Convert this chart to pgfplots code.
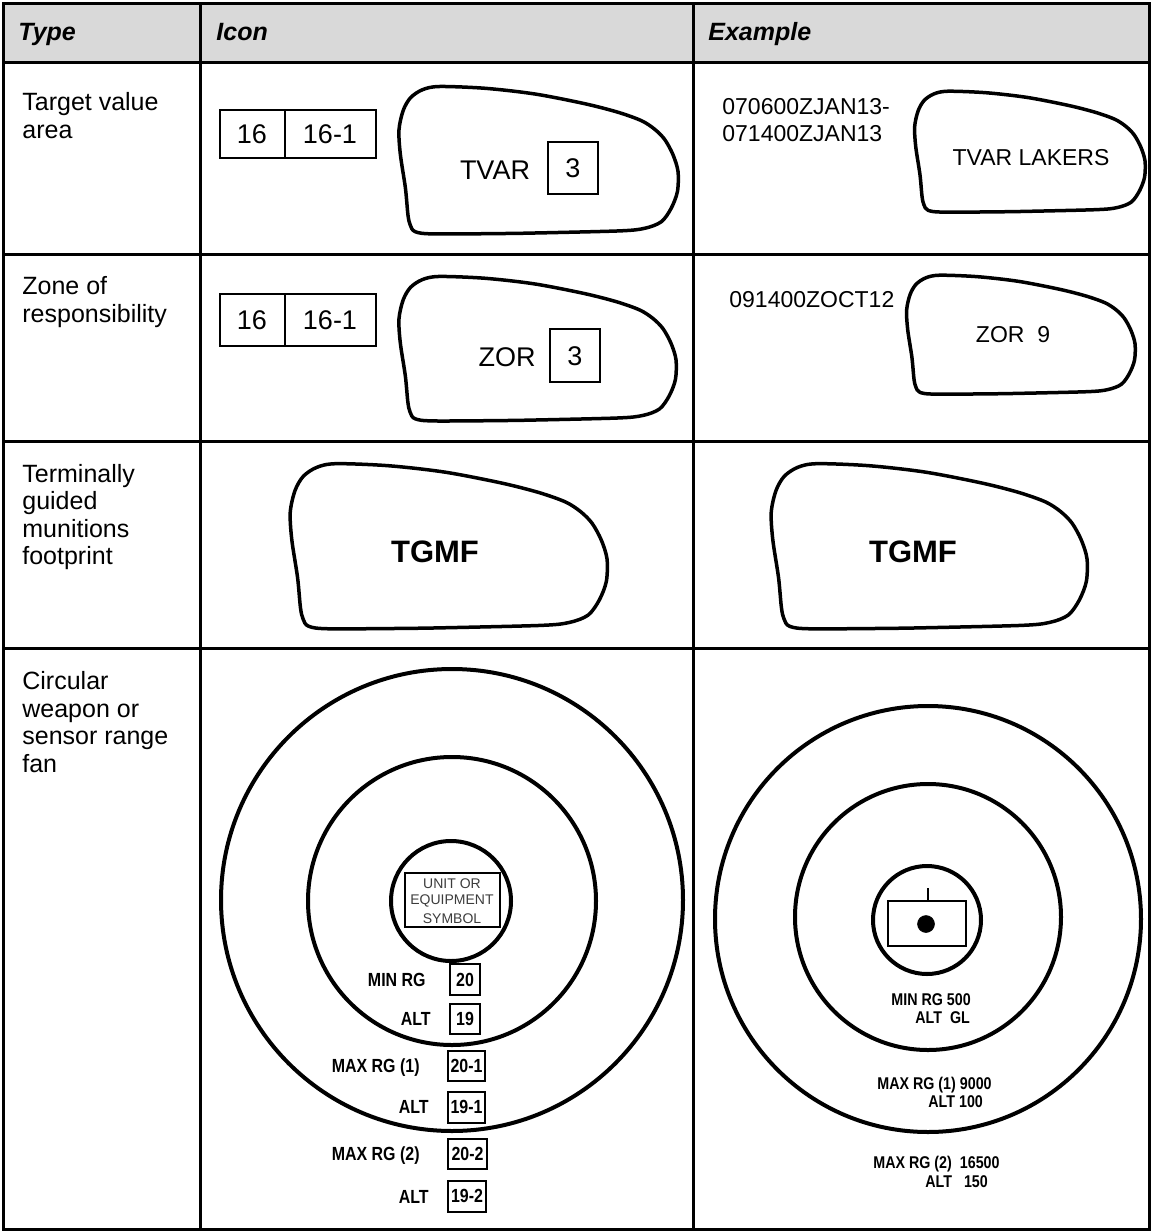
\documentclass[border=0pt]{standalone}
\usepackage{fontspec}
\setmainfont{Liberation Sans}
\newfontfamily\narrowfont[FakeStretch=0.84]{Liberation Sans}
\usepackage{pgfplots}
\usepackage{pgfplotstable}
\pgfplotsset{compat=1.18}
\definecolor{headgray}{RGB}{217,217,217}
\definecolor{unitgray}{RGB}{60,60,60}
% normalised outline of the irregular area symbol (u right, v down)
\pgfplotstableread{
u v
0.432 0.989
0.136 0.993
0.065 0.978
0.047 0.933
0.039 0.866
0.030 0.688
0.012 0.464
0.007 0.300
0.022 0.170
0.048 0.085
0.090 0.032
0.150 0.010
0.314 0.022
0.491 0.060
0.669 0.125
0.787 0.182
0.870 0.238
0.917 0.295
0.953 0.364
0.982 0.464
1.000 0.576
0.998 0.710
0.976 0.821
0.941 0.911
0.882 0.955
0.787 0.973
0.432 0.989
}\blob
\newcommand{\bodyfont}{\fontsize{12.5}{14}\selectfont}
\newcommand{\headfont}{\fontsize{12.5}{14}\selectfont\bfseries\itshape}
\newcommand{\iconfont}{\fontsize{13.5}{15}\selectfont}
\newcommand{\exfont}{\fontsize{11.5}{13}\selectfont}
\newcommand{\fanfont}{\fontsize{9.5}{10}\selectfont\narrowfont\bfseries}
\newcommand{\exfanfont}{\fontsize{8.5}{9}\selectfont\narrowfont\bfseries}
\newcommand{\blobat}[4]{\addplot[black, line width=1.75pt, smooth, tension=0.5] table[x expr=#1+#2*\thisrow{u}, y expr=#3+#4*\thisrow{v}] {\blob};}
\newcommand{\rect}[5][black, line width=0.75pt]{\addplot[#1] coordinates {(#2,#4) (#3,#4) (#3,#5) (#2,#5)} -- cycle;}
\begin{document}
\begin{tikzpicture}[every node/.append style={inner sep=0pt}]
\begin{axis}[scale only axis, width=575.5pt, height=616pt,
  xmin=0, xmax=1151, ymin=0, ymax=1232, y dir=reverse,
  hide axis, clip=false]
% frame of the picture
\addplot[draw=none] coordinates {(0,0) (1151,1232)};
% header background
\addplot[fill=headgray, draw=none] coordinates {(3,3) (1149,3) (1149,62) (3,62)} -- cycle;
% table rules
\rect[black, line width=1.5pt]{3}{1149}{3}{1229}
\addplot[black, line width=1.5pt] coordinates {(3,62) (1149,62)};
\addplot[black, line width=1.5pt] coordinates {(3,254) (1149,254)};
\addplot[black, line width=1.5pt] coordinates {(3,441) (1149,441)};
\addplot[black, line width=1.5pt] coordinates {(3,648) (1149,648)};
\addplot[black, line width=1.5pt] coordinates {(200,3) (200,1229)};
\addplot[black, line width=1.5pt] coordinates {(693,3) (693,1229)};
% header text
\node[anchor=base west, font=\headfont] at (axis cs:18,40) {Type};
\node[anchor=base west, font=\headfont] at (axis cs:216,40) {Icon};
\node[anchor=base west, font=\headfont] at (axis cs:708,40) {Example};
% first column
\node[anchor=base west, font=\bodyfont] at (axis cs:22,110) {Target value};
\node[anchor=base west, font=\bodyfont] at (axis cs:22,138) {area};
\node[anchor=base west, font=\bodyfont] at (axis cs:22,294) {Zone of};
\node[anchor=base west, font=\bodyfont] at (axis cs:22,322) {responsibility};
\node[anchor=base west, font=\bodyfont] at (axis cs:22,482) {Terminally};
\node[anchor=base west, font=\bodyfont] at (axis cs:22,509) {guided};
\node[anchor=base west, font=\bodyfont] at (axis cs:22,537) {munitions};
\node[anchor=base west, font=\bodyfont] at (axis cs:22,564) {footprint};
\node[anchor=base west, font=\bodyfont] at (axis cs:22,689) {Circular};
\node[anchor=base west, font=\bodyfont] at (axis cs:22,717) {weapon or};
\node[anchor=base west, font=\bodyfont] at (axis cs:22,744) {sensor range};
\node[anchor=base west, font=\bodyfont] at (axis cs:22,772) {fan};
% ---- row 1: target value area
\rect{220}{376}{110}{158}
\addplot[black, line width=0.75pt] coordinates {(285,110) (285,158)};
\node[font=\iconfont] at (axis cs:252,134) {16};
\node[font=\iconfont] at (axis cs:330,134) {16-1};
\blobat{397}{281}{85}{150}
\node[font=\iconfont] at (axis cs:495,170) {TVAR};
\rect{548}{598}{142}{194}
\node[font=\iconfont] at (axis cs:573,168) {3};
\node[anchor=base west, font=\exfont] at (axis cs:722,114) {070600ZJAN13-};
\node[anchor=base west, font=\exfont] at (axis cs:722,141) {071400ZJAN13};
\blobat{913}{232}{90}{123}
\node[font=\exfont] at (axis cs:1031,158) {TVAR LAKERS};
% ---- row 2: zone of responsibility
\rect{220}{376}{294}{346}
\addplot[black, line width=0.75pt] coordinates {(285,294) (285,346)};
\node[font=\iconfont] at (axis cs:252,320) {16};
\node[font=\iconfont] at (axis cs:330,320) {16-1};
\blobat{397}{279}{275}{147}
\node[font=\iconfont] at (axis cs:507,357) {ZOR};
\rect{550}{600}{329}{382}
\node[font=\iconfont] at (axis cs:575,356) {3};
\node[anchor=west, font=\exfont] at (axis cs:729,300) {091400ZOCT12};
\blobat{905}{230}{274}{121}
\node[font=\exfont] at (axis cs:1013,335) {ZOR\ \ 9};
% ---- row 3: terminally guided munitions footprint
\blobat{288}{319}{462}{168}
\node[font=\fontsize{15.5}{17}\selectfont\bfseries] at (axis cs:435,552) {TGMF};
\blobat{769}{318}{462}{168}
\node[font=\fontsize{15.5}{17}\selectfont\bfseries] at (axis cs:913,552) {TGMF};
% ---- row 4: range fan icon
\addplot[black, only marks, mark=o, mark size=115.5pt, mark options={line width=2pt}] coordinates {(452,900)};
\addplot[black, only marks, mark=o, mark size=72pt, mark options={line width=2pt}] coordinates {(452,901)};
\addplot[black, only marks, mark=o, mark size=30pt, mark options={line width=2pt}] coordinates {(451,901)};
\rect[black, line width=1pt]{405}{500}{873}{927}
\node[font=\fontsize{7}{8}\selectfont, text=unitgray] at (axis cs:452,884) {UNIT OR};
\node[font=\fontsize{7}{8}\selectfont, text=unitgray] at (axis cs:452,901) {EQUIPMENT};
\node[font=\fontsize{7}{8}\selectfont, text=unitgray] at (axis cs:452,919) {SYMBOL};
\node[anchor=base east, font=\fanfont] at (axis cs:426,986) {MIN RG};
\node[anchor=base east, font=\fanfont] at (axis cs:431,1025) {ALT};
\node[anchor=base east, font=\fanfont] at (axis cs:420,1072) {MAX RG (1)};
\node[anchor=base east, font=\fanfont] at (axis cs:429,1113) {ALT};
\node[anchor=base east, font=\fanfont] at (axis cs:420,1160) {MAX RG (2)};
\node[anchor=base east, font=\fanfont] at (axis cs:429,1203) {ALT};
\rect[black, line width=1pt]{450}{480}{964}{995}
\rect[black, line width=1pt]{450}{480}{1004}{1034}
\rect[black, line width=1pt]{448}{485}{1051}{1081}
\rect[black, line width=1pt]{448}{485}{1092}{1123}
\rect[black, line width=1pt]{448}{487}{1139}{1169}
\rect[black, line width=1pt]{448}{486}{1181}{1212}
\node[font=\fanfont] at (axis cs:465,980) {20};
\node[font=\fanfont] at (axis cs:465,1019) {19};
\node[font=\fanfont] at (axis cs:466.5,1066) {20-1};
\node[font=\fanfont] at (axis cs:466.5,1107) {19-1};
\node[font=\fanfont] at (axis cs:467.5,1154) {20-2};
\node[font=\fanfont] at (axis cs:467,1196) {19-2};
% ---- row 4: range fan example
\addplot[black, only marks, mark=o, mark size=106.5pt, mark options={line width=2pt}] coordinates {(928,919)};
\addplot[black, only marks, mark=o, mark size=66.5pt, mark options={line width=2pt}] coordinates {(928,917)};
\addplot[black, only marks, mark=o, mark size=27pt, mark options={line width=2pt}] coordinates {(927,920)};
\rect[black, line width=1pt]{888}{966}{901}{946}
\addplot[black, line width=1pt] coordinates {(928,888) (928,901)};
\addplot[black, only marks, mark=*, mark size=4.2pt] coordinates {(926,924)};
\node[anchor=base west, font=\exfanfont] at (axis cs:891,1005) {MIN RG 500};
\node[anchor=base west, font=\exfanfont] at (axis cs:915,1023) {ALT\ \ GL};
\node[anchor=base west, font=\exfanfont] at (axis cs:877,1089) {MAX RG (1) 9000};
\node[anchor=base west, font=\exfanfont] at (axis cs:928,1107) {ALT 100};
\node[anchor=base west, font=\exfanfont] at (axis cs:873,1168) {MAX RG (2)\ \ 16500};
\node[anchor=base west, font=\exfanfont] at (axis cs:925,1187) {ALT\ \ \ 150};
\end{axis}
\end{tikzpicture}
\end{document}
